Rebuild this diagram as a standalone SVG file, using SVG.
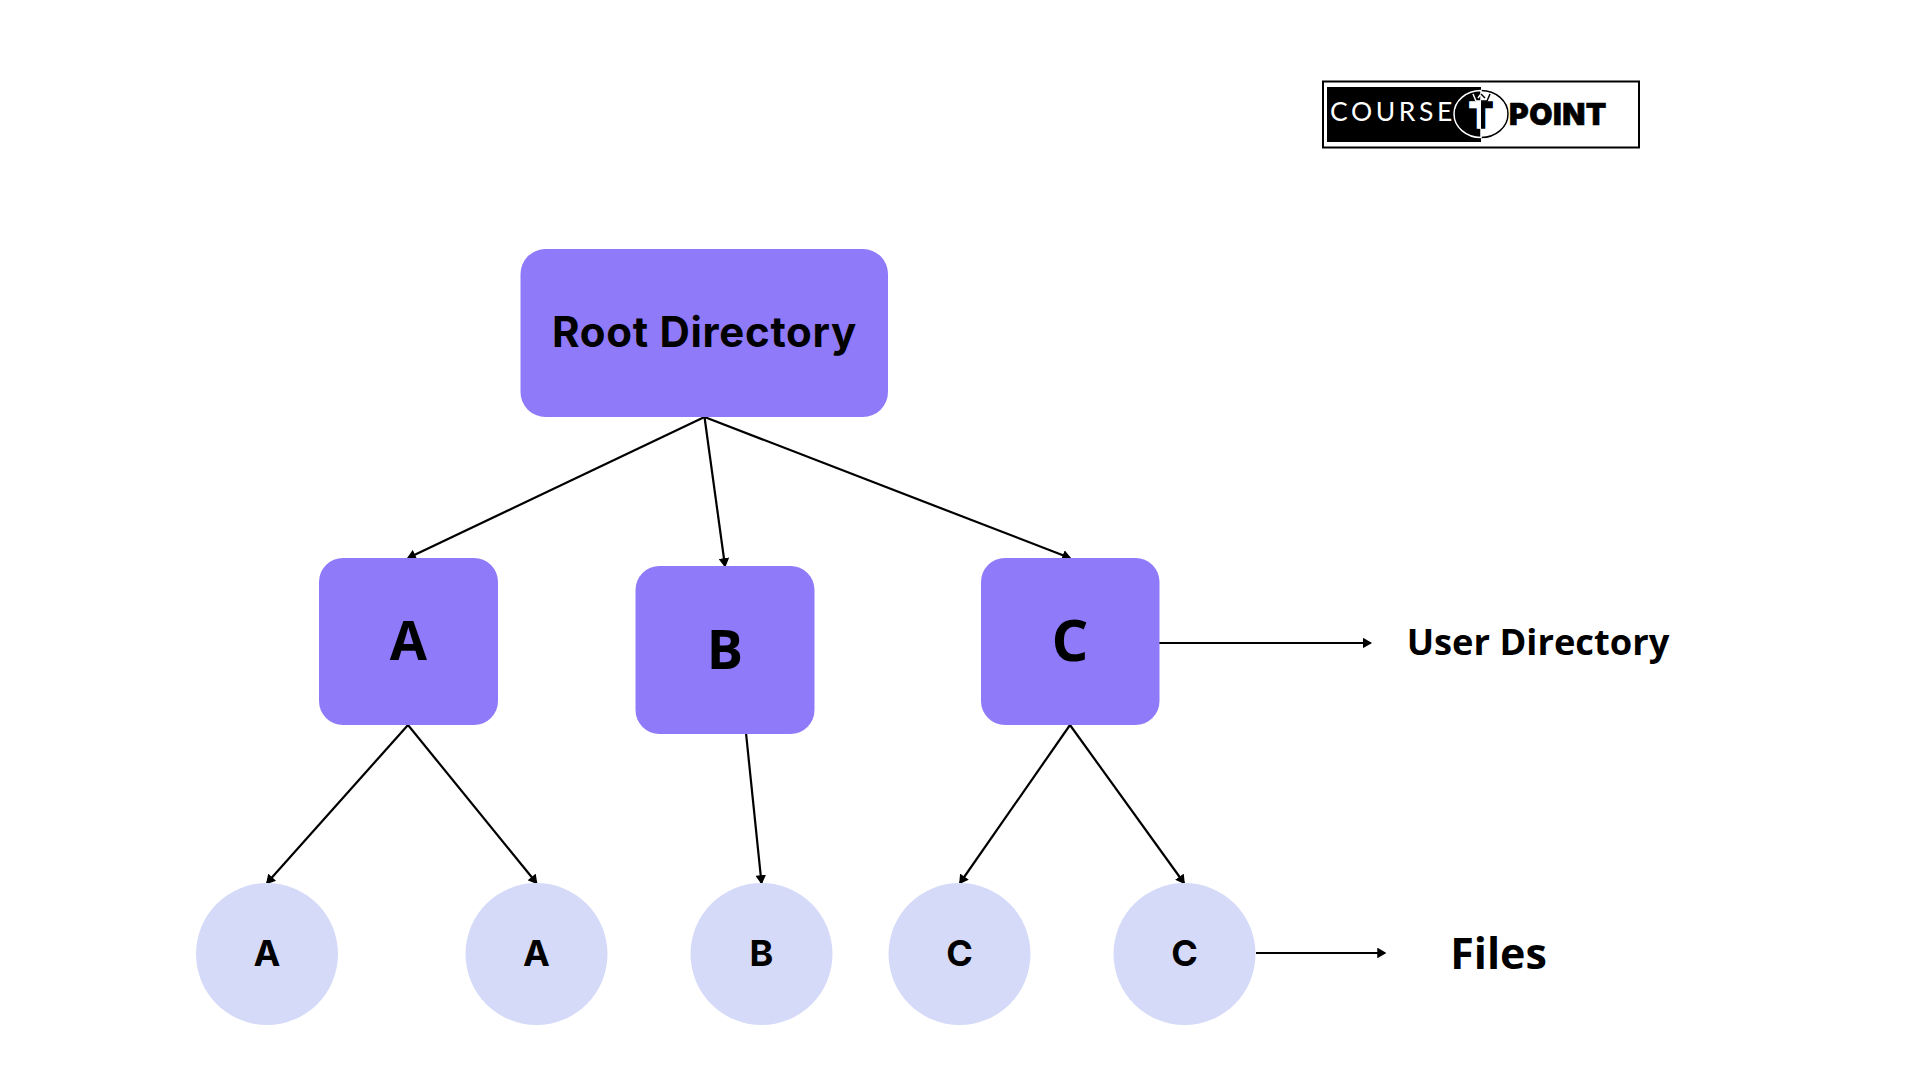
<svg xmlns="http://www.w3.org/2000/svg" width="1920" height="1080" viewBox="0 0 1920 1080">
<style>
.box{fill:#8f7afa}
.leaf{fill:#d5daf9}
.c line{stroke:#000;stroke-width:2.2;marker-end:url(#a)}
text{font-family:"Open Sans","Noto Sans",sans-serif;font-weight:700;fill:#000;text-anchor:middle}
.dm{font-family:Inter,"Liberation Sans",sans-serif}
.lf{font-family:Inter,"Liberation Sans",sans-serif;font-size:36px}
.bx{font-size:54px}
</style>
<defs>
<marker id="a" viewBox="0 0 9 10" refX="8" refY="5" markerWidth="9" markerHeight="10" markerUnits="userSpaceOnUse" orient="auto"><path d="M1 1L8 5L1 9z" fill="#000" stroke="#000" stroke-width="1.500"/></marker>
<clipPath id="l"><rect x="1440" y="80" width="41" height="70"/></clipPath>
<clipPath id="r"><rect x="1481" y="80" width="43" height="70"/></clipPath>
</defs>
<rect width="1920" height="1080" fill="#fff"/>
<g class="c" id="connectors">
<line x1="704.5" y1="417" x2="408" y2="558"/>
<line x1="704.5" y1="417" x2="725" y2="566"/>
<line x1="704.5" y1="417" x2="1070" y2="558"/>
<line x1="408" y1="725" x2="267" y2="883"/>
<line x1="408" y1="725" x2="536.500" y2="883"/>
<line x1="746" y1="733" x2="761.500" y2="883"/>
<line x1="1070" y1="725" x2="960" y2="883"/>
<line x1="1070" y1="725" x2="1184" y2="883"/>
<line x1="1159" y1="643" x2="1370.500" y2="643"/>
<line x1="1256" y1="953" x2="1385" y2="953"/>
</g>
<g id="root"><rect class="box" x="520.500" y="249" width="367.500" height="168" rx="25"/><text class="dm" x="704.500" y="347" font-size="42" letter-spacing="0.700">Root Directory</text></g>
<g id="dir-a"><rect class="box" x="319" y="558" width="179" height="167" rx="24"/><text class="bx" x="408.500" y="660">A</text></g>
<g id="dir-b"><rect class="box" x="635.500" y="566" width="179" height="168" rx="24"/><text class="bx" x="725" y="669">B</text></g>
<g id="dir-c"><rect class="box" x="981" y="558" width="178.500" height="167" rx="24"/><text x="1070" y="661" font-size="58">C</text></g>
<g id="file-a1"><circle class="leaf" cx="267" cy="954" r="71"/><text class="lf" x="267" y="966">A</text></g>
<g id="file-a2"><circle class="leaf" cx="536.500" cy="954" r="71"/><text class="lf" x="536.500" y="966">A</text></g>
<g id="file-b"><circle class="leaf" cx="761.500" cy="954" r="71"/><text class="lf" x="761.500" y="966">B</text></g>
<g id="file-c1"><circle class="leaf" cx="959.500" cy="954" r="71"/><text class="lf" x="959.500" y="966">C</text></g>
<g id="file-c2"><circle class="leaf" cx="1184.500" cy="954" r="71"/><text class="lf" x="1184.500" y="966">C</text></g>
<g id="label-user"><text x="1538" y="655" font-size="36.300">User Directory</text></g>
<g id="label-files"><text x="1498.500" y="969" font-size="43">Files</text></g>
<g id="logo">
<rect x="1323" y="81.500" width="316" height="66" fill="#fff" stroke="#000" stroke-width="2"/>
<rect x="1327" y="87" width="154" height="55" fill="#000"/>
<text x="1393" y="121" font-size="26.500" style="font-weight:400;fill:#fff;letter-spacing:3.600px;font-family:Lato,sans-serif">COURSE</text>
<text x="1558" y="125" font-size="30" style="font-weight:900;letter-spacing:.5px;stroke:#000;stroke-width:.6;font-family:Inter,sans-serif">POINT</text>
<ellipse cx="1481" cy="114" rx="27" ry="23.500" fill="#fff" stroke="#000" stroke-width="1.500"/>
<path d="M1481 90.500a27 23.500 0 0 0 0 47z" fill="#000" stroke="#fff" stroke-width="1.500"/>
<text x="1481" y="128" font-size="35" clip-path="url(#l)" style="font-weight:900;fill:#fff;stroke:#fff;stroke-width:1.500;font-family:Inter,sans-serif">T</text>
<text x="1481" y="128" font-size="35" clip-path="url(#r)" style="font-weight:900;stroke:#000;stroke-width:1.500;font-family:Inter,sans-serif">T</text>
<path d="M1473 94l3 7M1476 101h5M1481 94l-3 4" fill="none" stroke="#fff" stroke-width="1.500"/>
<path d="M1481 101h6l3-7M1481 94l4 4" fill="none" stroke="#000" stroke-width="1.500"/>
</g>
</svg>
